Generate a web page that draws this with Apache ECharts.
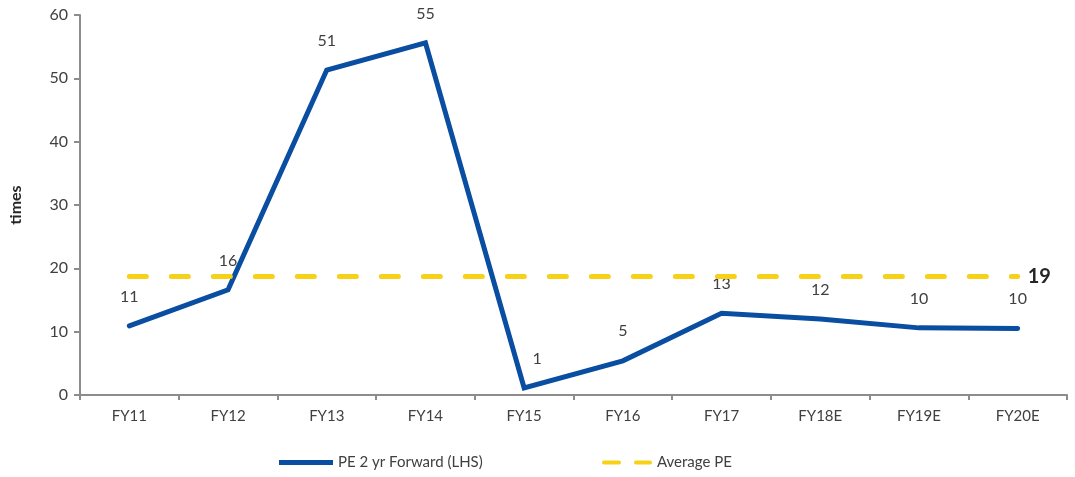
<!DOCTYPE html>
<html><head><meta charset="utf-8">
<script src="https://cdn.jsdelivr.net/npm/echarts@6/dist/echarts.min.js"></script>
<style>html,body{margin:0;padding:0;background:#fff}#c{width:1075px;height:477px}</style>
</head><body><div id="c"></div>
<script>
const categories = ['FY11','FY12','FY13','FY14','FY15','FY16','FY17','FY18E','FY19E','FY20E'];
const peForward = [10.9, 16.6, 51.3, 55.6, 1.1, 5.4, 12.9, 12.0, 10.6, 10.5];
const peLabels = ['11','16','51','55','1','5','13','12','10','10'];
const averagePE = 18.7;
const averageLabel = '19';
const yTicks = [0, 60, 10];

const FONT = 'Lato, "DejaVu Sans", sans-serif';
const BLUE = '#0a4ea2';
const YELLOW = '#f7d117';
const chart = echarts.init(document.getElementById('c'), null, {renderer: 'canvas'});
const legendText = {fontFamily: FONT, fontSize: 15, color: '#404040'};
chart.setOption({
  animation: false,
  textStyle: {fontFamily: FONT, color: '#404040'},
  grid: {left: 79, right: 8, top: 15, bottom: 82},
  legend: [
    {
      bottom: 2, left: 274, itemWidth: 54, itemHeight: 5, itemGap: 4,
      textStyle: legendText,
      data: [{name: 'PE 2 yr Forward (LHS)', icon: 'path://M0,0 L54,0 L54,5 L0,5 Z', itemStyle: {color: BLUE}}]
    },
    {
      bottom: 2, left: 597, itemWidth: 50, itemHeight: 5, itemGap: 8,
      textStyle: legendText,
      data: [{name: 'Average PE', icon: 'path://M2,0 L17,0 A2,2 0 0 1 17,4 L2,4 A2,2 0 0 1 2,0 Z M34,0 L48,0 A2,2 0 0 1 48,4 L34,4 A2,2 0 0 1 34,0 Z', itemStyle: {color: YELLOW}}]
    }
  ],
  xAxis: {
    type: 'category', data: categories, boundaryGap: true,
    axisLine: {lineStyle: {color: '#8c8c8c', width: 2}},
    axisTick: {show: true, length: 5, lineStyle: {color: '#8c8c8c', width: 2}},
    axisLabel: {fontFamily: FONT, fontSize: 15, color: '#404040', margin: 14}
  },
  yAxis: {
    type: 'value', min: yTicks[0], max: yTicks[1], interval: yTicks[2],
    name: 'times', nameLocation: 'middle', nameGap: 56, nameRotate: 90,
    nameTextStyle: {fontFamily: FONT, fontSize: 16, fontWeight: 'bold', color: '#262626'},
    axisLine: {show: true, lineStyle: {color: '#8c8c8c', width: 2}},
    axisTick: {show: true, length: 6, lineStyle: {color: '#8c8c8c', width: 2}},
    splitLine: {show: false},
    axisLabel: {fontFamily: FONT, fontSize: 16, color: '#404040', margin: 12}
  },
  series: [
    {
      name: 'PE 2 yr Forward (LHS)', type: 'line',
      data: peForward,
      symbol: 'circle', symbolSize: 1, showSymbol: true, z: 2,
      lineStyle: {color: BLUE, width: 5, cap: 'round', join: 'miter'},
      itemStyle: {color: BLUE},
      label: {
        show: true, position: 'top', distance: 21, fontFamily: FONT, fontSize: 16, color: '#404040',
        formatter: p => peLabels[p.dataIndex]
      },
      labelLayout: p => (p.dataIndex === 4 ? {dx: 13, hideOverlap: false} : {hideOverlap: false}),
      emphasis: {disabled: true}
    },
    {
      name: 'Average PE', type: 'line', data: categories.map(() => averagePE),
      symbol: 'none', z: 3,
      lineStyle: {color: YELLOW, width: 5, type: [17, 25], cap: 'round'},
      itemStyle: {color: YELLOW},
      endLabel: {show: true, formatter: averageLabel, fontFamily: FONT, fontSize: 20, fontWeight: 'bold', color: '#262626', distance: 10}
    }
  ]
});
</script></body></html>
